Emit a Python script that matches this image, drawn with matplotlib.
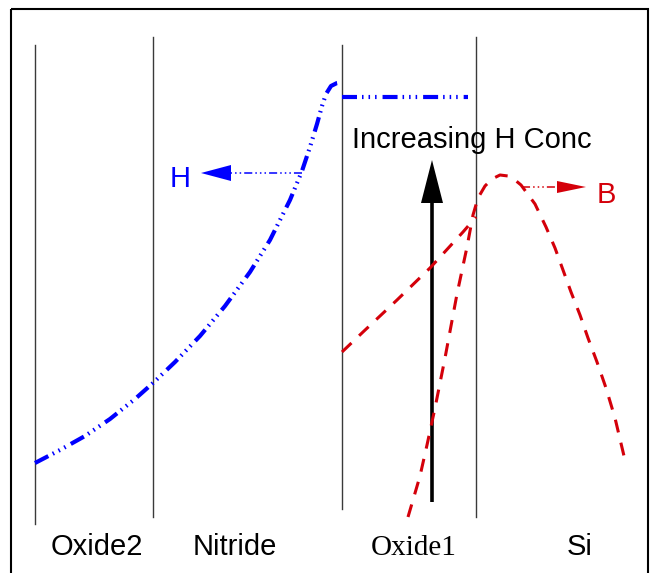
import matplotlib.pyplot as plt
from matplotlib.patches import Rectangle, Polygon
import numpy as np

plt.rcParams['lines.scale_dashes'] = False

# layer boundaries (depth positions) and labels
layer_edges = [35, 153, 342, 476]
edge_tops = [45, 37, 45, 37]
edge_bottoms = [524, 517, 509, 517]
layer_names = ['Oxide2', 'Nitride', 'Oxide1', 'Si']
layer_label_x = [97, 235, 414, 580]

# hydrogen profile (blue)
h_x = [35, 60, 85, 110, 135, 153, 175, 200, 225, 250, 270, 290, 302, 310, 317,
       322, 326, 331, 337, 342]
h_y = [463, 450, 436, 419, 399, 383, 362, 336, 306, 272, 240, 200, 171, 147, 124,
       106, 94, 86, 83, 82]
h_flat_x = [342, 468]
h_flat_y = [97, 97]

# boron profiles (red)
b_ox_x = [342, 363, 397, 430, 463, 476]
b_ox_y = [352, 332, 300, 268, 232, 217]
b_si_x = [408, 413, 420, 427, 435, 445, 457, 467, 473, 478, 485, 492, 500, 508,
          515, 521, 535, 546, 555, 563, 571, 580, 588, 597, 606, 615, 624]
b_si_y = [517, 500, 476, 445, 408, 358, 294, 247, 215, 198, 186, 179, 175, 176,
          180, 185, 204, 227, 248, 270, 292, 315, 338, 362, 388, 418, 456]

blue = '#0000ff'
red = '#d4000a'
sans = ['Liberation Sans', 'DejaVu Sans']
serif = ['Liberation Serif', 'DejaVu Serif']

dash_dot3 = [10.8, 3.6, 1.1, 3.6, 1.1, 3.6, 1.1, 4.3]
thin_dash_dot3 = [5.8, 2.2, 1.1, 2.2, 1.1, 2.2, 1.1, 2.2]
red_dash = [9.4, 7.6]


def arrow(ax, x0, y0, x1, y1, color, lw, dashes, head_len, head_w, z=3):
    d = np.array([x1 - x0, y1 - y0], float)
    u = d / np.hypot(*d)
    n = np.array([-u[1], u[0]])
    tip = np.array([x1, y1], float)
    base = tip - head_len * u
    line, = ax.plot([x0, base[0]], [y0, base[1]], color=color, lw=lw,
                    solid_capstyle='butt', zorder=z)
    if dashes:
        line.set_dashes(dashes)
    ax.add_patch(Polygon([tip, base + head_w * n, base - head_w * n],
                         closed=True, color=color, lw=0, zorder=z))


fig = plt.figure(figsize=(6.5, 5.73), dpi=100)
ax = fig.add_axes([0, 0, 1, 1])
ax.set_xlim(0, 650)
ax.set_ylim(573, 0)
ax.axis('off')

# frame
ax.add_patch(Rectangle((10.5, 8.5), 637, 600, fill=False, ec='black', lw=1.5))

for x, t, b in zip(layer_edges, edge_tops, edge_bottoms):
    ax.plot([x, x], [t, b], color='#3a3a3a', lw=1.0)

for name, x in zip(layer_names, layer_label_x):
    fam = serif if name == 'Oxide1' else sans
    ax.text(x, 555, name, ha='center', va='baseline', fontsize=21, family=fam)

# H profile
l1, = ax.plot(h_x, h_y, color=blue, lw=3, dash_capstyle='butt', zorder=4)
l1.set_dashes(dash_dot3)
l2, = ax.plot(h_flat_x, h_flat_y, color=blue, lw=3, dash_capstyle='butt', zorder=4)
l2.set_dashes(dash_dot3)

# B profiles
l3, = ax.plot(b_ox_x, b_ox_y, color=red, lw=2.2, dash_capstyle='butt', zorder=5)
l3.set_dashes(red_dash)
l4, = ax.plot(b_si_x, b_si_y, color=red, lw=2.2, dash_capstyle='butt', zorder=5)
l4.set_dashes(red_dash)

# increasing H concentration arrow
arrow(ax, 432, 502, 432, 160, 'black', 2.6, None, 43, 11)
ax.text(472, 148, 'Increasing H Conc', ha='center', va='baseline',
        fontsize=21, family=sans)

# H and B markers
arrow(ax, 302, 173, 201, 173, blue, 1.1, thin_dash_dot3, 30, 8)
ax.text(180, 187, 'H', ha='center', va='baseline', fontsize=21, color=blue, family=sans)
arrow(ax, 522, 187, 586, 187, red, 1.1, thin_dash_dot3, 29, 6)
ax.text(606, 203, 'B', ha='center', va='baseline', fontsize=21, color=red, family=sans)

fig.savefig('out.png', dpi=100)
